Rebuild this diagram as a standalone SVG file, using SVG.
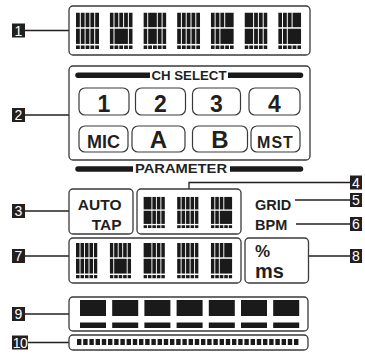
<svg xmlns="http://www.w3.org/2000/svg" xmlns:xlink="http://www.w3.org/1999/xlink" width="365" height="356" viewBox="0 0 365 356">
<style>
.box{fill:#fff;stroke:#3a3a3a;stroke-width:1.3}
.btn{fill:#fff;stroke:#3a3a3a;stroke-width:1.2}
.lbl{fill:#231f20}
.ln{font-family:"Liberation Sans Narrow","Liberation Sans",Arial,sans-serif;font-size:14px;fill:#fff;text-anchor:middle}
.t{font-family:"Liberation Sans",Arial,sans-serif;font-weight:bold;fill:#231f20}
.conn{fill:none;stroke:#231f20;stroke-width:1.3}
.seg{fill:#1a1a1a}
</style>
<defs>
<symbol id="g0" viewBox="0 0 23 36" preserveAspectRatio="none">
<g class="seg">
<rect x="0" y="0" width="3.8" height="14.5"/><rect x="4.8" y="0" width="3.8" height="14.5"/><rect x="9.6" y="0" width="3.8" height="14.5"/><rect x="14.4" y="0" width="3.8" height="14.5"/><rect x="19.2" y="0" width="3.8" height="14.5"/>
<rect x="0" y="16" width="3.8" height="15"/><rect x="4.8" y="16" width="3.8" height="15"/><rect x="9.6" y="16" width="3.8" height="15"/><rect x="14.4" y="16" width="3.8" height="15"/><rect x="19.2" y="16" width="3.8" height="15"/>
<rect x="0" y="32.5" width="3.8" height="3.5"/><rect x="4.8" y="32.5" width="3.8" height="3.5"/><rect x="9.6" y="32.5" width="3.8" height="3.5"/><rect x="14.4" y="32.5" width="3.8" height="3.5"/><rect x="19.2" y="32.5" width="3.8" height="3.5"/>
</g>
</symbol>
<symbol id="g1" viewBox="0 0 23 36" preserveAspectRatio="none">
<g class="seg">
<rect x="0" y="0" width="3.8" height="14.5"/><rect x="4.8" y="0" width="3.8" height="14.5"/><rect x="9.6" y="0" width="3.8" height="14.5"/><rect x="14.4" y="0" width="3.8" height="14.5"/><rect x="19.2" y="0" width="3.8" height="14.5"/>
<rect x="0" y="16" width="3.8" height="15"/><rect x="4.8" y="16" width="13.4" height="15"/><rect x="19.2" y="16" width="3.8" height="15"/>
<rect x="0" y="32.5" width="3.8" height="3.5"/><rect x="4.8" y="32.5" width="3.8" height="3.5"/><rect x="9.6" y="32.5" width="3.8" height="3.5"/><rect x="14.4" y="32.5" width="3.8" height="3.5"/><rect x="19.2" y="32.5" width="3.8" height="3.5"/>
</g>
</symbol>
<symbol id="g2" viewBox="0 0 23 36" preserveAspectRatio="none">
<g class="seg">
<rect x="0" y="0" width="3.8" height="14.5"/><rect x="4.8" y="0" width="8.6" height="14.5"/><rect x="14.4" y="0" width="3.8" height="14.5"/><rect x="19.2" y="0" width="3.8" height="14.5"/>
<rect x="0" y="16" width="3.8" height="15"/><rect x="4.8" y="16" width="8.6" height="15"/><rect x="14.4" y="16" width="3.8" height="15"/><rect x="19.2" y="16" width="3.8" height="15"/>
<rect x="0" y="32.5" width="3.8" height="3.5"/><rect x="4.8" y="32.5" width="3.8" height="3.5"/><rect x="9.6" y="32.5" width="3.8" height="3.5"/><rect x="14.4" y="32.5" width="3.8" height="3.5"/><rect x="19.2" y="32.5" width="3.8" height="3.5"/>
</g>
</symbol>
<symbol id="g3" viewBox="0 0 23 36" preserveAspectRatio="none">
<g class="seg">
<rect x="0" y="0" width="3.8" height="14.5"/><rect x="4.8" y="0" width="3.8" height="14.5"/><rect x="9.6" y="0" width="3.8" height="14.5"/><rect x="14.4" y="0" width="8.6" height="14.5"/>
<rect x="0" y="16" width="3.8" height="15"/><rect x="4.8" y="16" width="3.8" height="15"/><rect x="9.6" y="16" width="13.4" height="15"/>
<rect x="0" y="32.5" width="3.8" height="3.5"/><rect x="4.8" y="32.5" width="3.8" height="3.5"/><rect x="9.6" y="32.5" width="3.8" height="3.5"/><rect x="14.4" y="32.5" width="3.8" height="3.5"/><rect x="19.2" y="32.5" width="3.8" height="3.5"/>
</g>
</symbol>
<symbol id="g4" viewBox="0 0 23 36" preserveAspectRatio="none">
<g class="seg">
<rect x="0" y="0" width="8.6" height="14.5"/><rect x="9.6" y="0" width="3.8" height="14.5"/><rect x="14.4" y="0" width="3.8" height="14.5"/><rect x="19.2" y="0" width="3.8" height="14.5"/>
<rect x="0" y="16" width="8.6" height="15"/><rect x="9.6" y="16" width="3.8" height="15"/><rect x="14.4" y="16" width="3.8" height="15"/><rect x="19.2" y="16" width="3.8" height="15"/>
<rect x="0" y="32.5" width="3.8" height="3.5"/><rect x="4.8" y="32.5" width="3.8" height="3.5"/><rect x="9.6" y="32.5" width="3.8" height="3.5"/><rect x="14.4" y="32.5" width="3.8" height="3.5"/><rect x="19.2" y="32.5" width="3.8" height="3.5"/>
</g>
</symbol>
</defs>

<g id="connectors">
<line class="conn" x1="25" y1="30.5" x2="69" y2="30.5"/>
<line class="conn" x1="25" y1="115" x2="69" y2="115"/>
<line class="conn" x1="25" y1="211" x2="69" y2="211"/>
<line class="conn" x1="25" y1="256" x2="69" y2="256"/>
<line class="conn" x1="25" y1="314" x2="69" y2="314"/>
<line class="conn" x1="28" y1="342.5" x2="69" y2="342.5"/>
<polyline class="conn" points="189,189 189,182.5 350,182.5"/>
<line class="conn" x1="295" y1="200" x2="350" y2="200"/>
<line class="conn" x1="296" y1="224" x2="350" y2="224"/>
<line class="conn" x1="308" y1="256" x2="350" y2="256"/>
</g>

<g id="node1">
<rect class="box" x="69" y="6" width="241" height="49" rx="4"/>
<use xlink:href="#g0" x="76" y="12.5" width="23" height="36.5"/>
<use xlink:href="#g1" x="109.7" y="12.5" width="23" height="36.5"/>
<use xlink:href="#g2" x="143.4" y="12.5" width="23" height="36.5"/>
<use xlink:href="#g0" x="177.1" y="12.5" width="23" height="36.5"/>
<use xlink:href="#g3" x="210.8" y="12.5" width="23" height="36.5"/>
<use xlink:href="#g4" x="244.5" y="12.5" width="23" height="36.5"/>
<use xlink:href="#g3" x="278.2" y="12.5" width="23" height="36.5"/>
</g>

<g id="node2">
<rect class="box" x="69" y="66" width="241" height="94" rx="4"/>
<path class="seg" d="M150,72.5 H78 A2.75,2.75 0 0 0 78,78 H150 Z"/>
<path class="seg" d="M228,72.5 H300.5 A2.75,2.75 0 0 1 300.5,78 H228 Z"/>
<text class="t" x="151.5" y="79.5" font-size="12.5" textLength="75" lengthAdjust="spacingAndGlyphs">CH SELECT</text>
<rect class="btn" x="79" y="88" width="50" height="27" rx="6"/>
<rect class="btn" x="135.5" y="88" width="50" height="27" rx="6"/>
<rect class="btn" x="192.5" y="88" width="48" height="27" rx="6"/>
<rect class="btn" x="249" y="88" width="51" height="27" rx="6"/>
<text class="t" x="104" y="111.7" font-size="23" text-anchor="middle">1</text>
<text class="t" x="160.5" y="111.7" font-size="23" text-anchor="middle">2</text>
<text class="t" x="216.5" y="111.7" font-size="23" text-anchor="middle">3</text>
<text class="t" x="274.5" y="111.7" font-size="23" text-anchor="middle">4</text>
<rect class="btn" x="79" y="126" width="49" height="26" rx="6"/>
<rect class="btn" x="132" y="126" width="53" height="26" rx="6"/>
<rect class="btn" x="192.5" y="126" width="55" height="26" rx="6"/>
<rect class="btn" x="251" y="126" width="49" height="26" rx="6"/>
<text class="t" x="103.5" y="148.3" font-size="18" text-anchor="middle">MIC</text>
<text class="t" x="158.5" y="148.3" font-size="24" text-anchor="middle">A</text>
<text class="t" x="220" y="148.3" font-size="24" text-anchor="middle">B</text>
<text class="t" x="275.5" y="148.3" font-size="16" text-anchor="middle" letter-spacing="1">MST</text>
</g>

<g id="parameter">
<path class="seg" d="M133,166.25 H78 A2.75,2.75 0 0 0 78,171.75 H133 Z"/>
<path class="seg" d="M230,166.25 H300.5 A2.75,2.75 0 0 1 300.5,171.75 H230 Z"/>
<text class="t" x="135" y="173" font-size="12.5" textLength="92" lengthAdjust="spacingAndGlyphs">PARAMETER</text>
</g>

<g id="node3">
<rect class="box" x="69" y="189" width="64" height="45" rx="4"/>
<text class="t" x="121.5" y="210" font-size="15.5" text-anchor="end">AUTO</text>
<text class="t" x="121.5" y="230" font-size="15.5" text-anchor="end">TAP</text>
</g>

<g id="node4">
<rect class="box" x="137" y="189" width="104" height="45" rx="4"/>
<use xlink:href="#g4" x="143.4" y="196.7" width="21.5" height="31.6"/>
<use xlink:href="#g0" x="177.1" y="196.7" width="21.5" height="31.6"/>
<use xlink:href="#g3" x="210.8" y="196.7" width="21.5" height="31.6"/>
</g>

<g id="node5">
<text class="t" x="255" y="210" font-size="14.5">GRID</text>
</g>
<g id="node6">
<text class="t" x="255" y="230" font-size="14.5">BPM</text>
</g>

<g id="node7">
<rect class="box" x="69" y="238" width="172" height="45" rx="4"/>
<use xlink:href="#g0" x="76" y="243" width="21.5" height="35.5"/>
<use xlink:href="#g1" x="109.7" y="243" width="21.5" height="35.5"/>
<use xlink:href="#g4" x="143.4" y="243" width="21.5" height="35.5"/>
<use xlink:href="#g0" x="177.1" y="243" width="21.5" height="35.5"/>
<use xlink:href="#g3" x="210.8" y="243" width="21.5" height="35.5"/>
</g>

<g id="node8">
<rect class="box" x="245" y="238" width="63.5" height="45" rx="4"/>
<text class="t" x="255" y="257" font-size="17">%</text>
<text class="t" x="255" y="278" font-size="20">ms</text>
</g>

<g id="node9">
<rect class="box" x="69" y="297" width="239" height="34" rx="4"/>
<g class="seg">
<rect x="80" y="300" width="26" height="16"/><rect x="112.2" y="300" width="26" height="16"/><rect x="144.4" y="300" width="26" height="16"/><rect x="176.6" y="300" width="26" height="16"/><rect x="208.8" y="300" width="26" height="16"/><rect x="241" y="300" width="26" height="16"/><rect x="273.2" y="300" width="26" height="16"/>
<rect x="80" y="322.5" width="26" height="5.5"/><rect x="112.2" y="322.5" width="26" height="5.5"/><rect x="144.4" y="322.5" width="26" height="5.5"/><rect x="176.6" y="322.5" width="26" height="5.5"/><rect x="208.8" y="322.5" width="26" height="5.5"/><rect x="241" y="322.5" width="26" height="5.5"/><rect x="273.2" y="322.5" width="26" height="5.5"/>
</g>
</g>

<g id="node10">
<rect class="box" x="69" y="335" width="239" height="15" rx="4"/>
<g class="seg">
<rect x="77" y="339" width="4.4" height="6"/><rect x="83.2" y="339" width="4.4" height="6"/><rect x="89.4" y="339" width="4.4" height="6"/><rect x="95.6" y="339" width="4.4" height="6"/><rect x="101.8" y="339" width="4.4" height="6"/><rect x="108" y="339" width="4.4" height="6"/><rect x="114.2" y="339" width="4.4" height="6"/><rect x="120.4" y="339" width="4.4" height="6"/><rect x="126.6" y="339" width="4.4" height="6"/><rect x="132.8" y="339" width="4.4" height="6"/><rect x="139" y="339" width="4.4" height="6"/><rect x="145.2" y="339" width="4.4" height="6"/>
<rect x="151.4" y="339" width="4.4" height="6"/><rect x="157.6" y="339" width="4.4" height="6"/><rect x="163.8" y="339" width="4.4" height="6"/><rect x="170" y="339" width="4.4" height="6"/><rect x="176.2" y="339" width="4.4" height="6"/><rect x="182.4" y="339" width="4.4" height="6"/><rect x="188.6" y="339" width="4.4" height="6"/><rect x="194.8" y="339" width="4.4" height="6"/><rect x="201" y="339" width="4.4" height="6"/><rect x="207.2" y="339" width="4.4" height="6"/><rect x="213.4" y="339" width="4.4" height="6"/><rect x="219.6" y="339" width="4.4" height="6"/>
<rect x="225.8" y="339" width="4.4" height="6"/><rect x="232" y="339" width="4.4" height="6"/><rect x="238.2" y="339" width="4.4" height="6"/><rect x="244.4" y="339" width="4.4" height="6"/><rect x="250.6" y="339" width="4.4" height="6"/><rect x="256.8" y="339" width="4.4" height="6"/><rect x="263" y="339" width="4.4" height="6"/><rect x="269.2" y="339" width="4.4" height="6"/><rect x="275.4" y="339" width="4.4" height="6"/><rect x="281.6" y="339" width="4.4" height="6"/><rect x="287.8" y="339" width="4.4" height="6"/><rect x="294" y="339" width="4.4" height="6"/>
</g>
</g>

<g id="labels">
<rect class="lbl" x="12" y="23.5" width="13" height="14"/><text class="ln" x="18.5" y="35.5">1</text>
<rect class="lbl" x="12" y="108" width="13" height="14"/><text class="ln" x="18.5" y="120">2</text>
<rect class="lbl" x="12" y="204" width="13" height="14"/><text class="ln" x="18.5" y="216">3</text>
<rect class="lbl" x="12" y="249" width="13" height="14"/><text class="ln" x="18.5" y="261">7</text>
<rect class="lbl" x="12" y="307" width="13" height="14"/><text class="ln" x="18.5" y="319">9</text>
<rect class="lbl" x="12" y="335.5" width="16" height="14"/><text class="ln" x="20" y="347.5" letter-spacing="-0.5">10</text>
<rect class="lbl" x="350" y="175.5" width="12" height="14"/><text class="ln" x="356" y="187.5">4</text>
<rect class="lbl" x="350" y="193" width="12" height="14"/><text class="ln" x="356" y="205">5</text>
<rect class="lbl" x="350" y="217" width="12" height="14"/><text class="ln" x="356" y="229">6</text>
<rect class="lbl" x="350" y="249" width="12" height="14"/><text class="ln" x="356" y="261">8</text>
</g>
</svg>
